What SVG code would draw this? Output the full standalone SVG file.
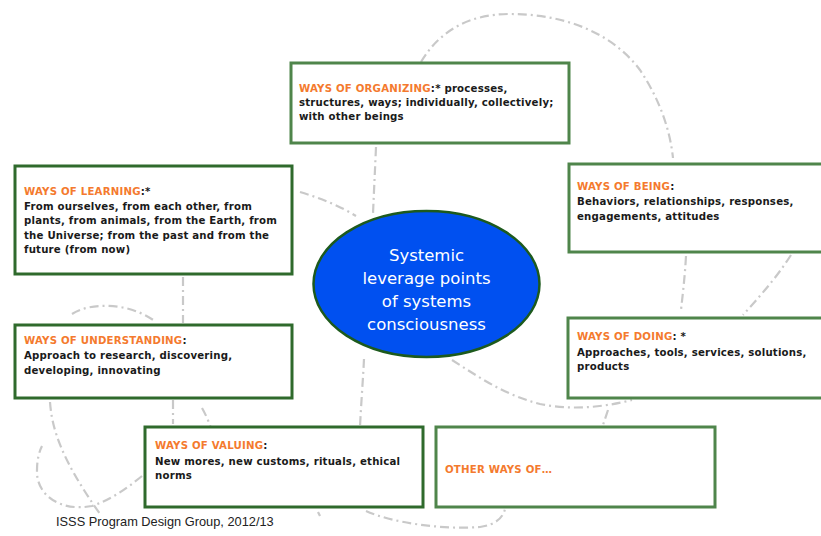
<svg xmlns="http://www.w3.org/2000/svg" width="821" height="536" viewBox="0 0 821 536">
<style>
.bg{fill:#ffffff}
.line{fill:none;stroke:#c9c9c9;stroke-width:2.2;stroke-dasharray:9 4 2 4;stroke-linecap:butt}
.box{fill:#ffffff;stroke:#4f854b;stroke-width:3}
.box2{fill:#ffffff;stroke:#2f6a2c;stroke-width:3}
.t{font-family:"DejaVu Sans",Verdana,sans-serif;font-weight:bold;font-size:10.2px;letter-spacing:0.2px;fill:#1a1a1a}
.o{fill:#f47a2e}
.c{font-family:"DejaVu Sans",Verdana,sans-serif;font-size:16.5px;fill:#ffffff;text-anchor:middle}
.f{font-family:"Liberation Sans Narrow","Liberation Sans",Arial,sans-serif;font-size:12.8px;fill:#222222}
</style>
<rect class="bg" x="0" y="0" width="821" height="536"/>
<g id="connectors">
<path class="line" d="M421 62 C440 30 470 14 510 14 C560 14 610 30 640 70 C660 100 670 130 673 158"/>
<path class="line" d="M376 147 C375 170 374 190 373 214"/>
<path class="line" d="M300 192 C320 198 340 206 356 216"/>
<path class="line" d="M183 277 L183 323"/>
<path class="line" d="M72 314 C90 302 130 302 156 322"/>
<path class="line" d="M50 402 C52 430 62 460 100 514"/>
<path class="line" d="M142 476 C125 490 110 500 92 506 C60 512 36 495 37 470 C37 458 40 450 42 446"/>
<path class="line" d="M173 400 L173 424"/>
<path class="line" d="M202 408 C206 415 210 424 212 432"/>
<path class="line" d="M364 359 C363 380 361 405 360 427"/>
<path class="line" d="M452 360 C480 378 505 395 540 404 C570 410 600 408 632 400"/>
<path class="line" d="M608 410 C606 416 604 422 602 428"/>
<path class="line" d="M686 256 C685 275 683 292 681 310"/>
<path class="line" d="M791 255 C775 280 758 298 743 315"/>
<path class="line" d="M366 511 C390 522 440 530 480 527 C495 525 503 518 505 509"/>
<path class="line" d="M318 512 L320 516"/>
</g>
<g id="center">
<ellipse cx="426.5" cy="284" rx="113" ry="73" fill="#0050f0" stroke="#1d5a1d" stroke-width="2.5"/>
<text class="c" x="426.5" y="261">Systemic</text>
<text class="c" x="426.5" y="284">leverage points</text>
<text class="c" x="426.5" y="307">of systems</text>
<text class="c" x="426.5" y="330">consciousness</text>
</g>
<g id="organizing">
<rect class="box" x="291" y="63" width="278" height="80"/>
<text class="t" x="299" y="92"><tspan class="o">WAYS OF ORGANIZING</tspan>:* processes,</text>
<text class="t" x="299" y="106">structures, ways; individually, collectively;</text>
<text class="t" x="299" y="120">with other beings</text>
</g>
<g id="learning">
<rect class="box2" x="15" y="166" width="277" height="108"/>
<text class="t" x="24" y="195"><tspan class="o">WAYS OF LEARNING</tspan>:*</text>
<text class="t" x="24" y="210">From ourselves, from each other, from</text>
<text class="t" x="24" y="224">plants, from animals, from the Earth, from</text>
<text class="t" x="24" y="239">the Universe; from the past and from the</text>
<text class="t" x="24" y="253">future (from now)</text>
</g>
<g id="being">
<rect class="box" x="569" y="164" width="258" height="88"/>
<text class="t" x="577" y="190"><tspan class="o">WAYS OF BEING</tspan>:</text>
<text class="t" x="577" y="205">Behaviors, relationships, responses,</text>
<text class="t" x="577" y="220">engagements, attitudes</text>
</g>
<g id="understanding">
<rect class="box2" x="15" y="325" width="277" height="73"/>
<text class="t" x="24" y="344"><tspan class="o">WAYS OF UNDERSTANDING</tspan>:</text>
<text class="t" x="24" y="359">Approach to research, discovering,</text>
<text class="t" x="24" y="374">developing, innovating</text>
</g>
<g id="doing">
<rect class="box" x="568" y="318" width="259" height="80"/>
<text class="t" x="577" y="340"><tspan class="o">WAYS OF DOING</tspan>: *</text>
<text class="t" x="577" y="356">Approaches, tools, services, solutions,</text>
<text class="t" x="577" y="370">products</text>
</g>
<g id="valuing">
<rect class="box2" x="145" y="427" width="278" height="80"/>
<text class="t" x="155" y="449"><tspan class="o">WAYS OF VALUING</tspan>:</text>
<text class="t" x="155" y="465">New mores, new customs, rituals, ethical</text>
<text class="t" x="155" y="479">norms</text>
</g>
<g id="other">
<rect class="box" x="436" y="427" width="279" height="80"/>
<text class="t o" x="445" y="473">OTHER WAYS OF…</text>
</g>
<text class="f" x="56" y="526">ISSS Program Design Group, 2012/13</text>
</svg>
